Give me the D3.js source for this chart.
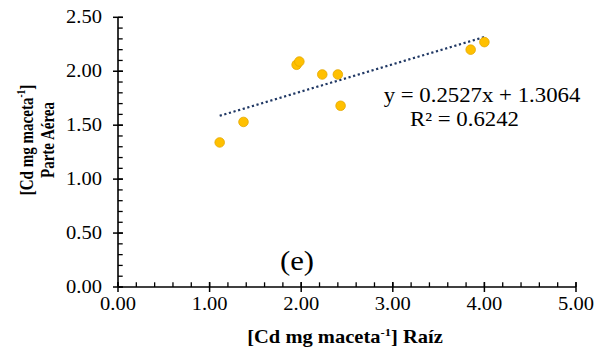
<!DOCTYPE html>
<html>
<head>
<meta charset="utf-8">
<script src="https://cdn.jsdelivr.net/npm/d3@7"></script>
<style>
  body { margin: 0; background: #fff; }
  text { font-family: "Liberation Serif", "Times New Roman", serif; fill: #000; }
</style>
</head>
<body>
<div class="chart"></div>
<script>
// data
const raiz = [1.11, 1.37, 1.95, 1.98, 2.23, 2.40, 2.43, 3.85, 4.00];
const parteAerea = [1.34, 1.53, 2.06, 2.09, 1.97, 1.97, 1.68, 2.20, 2.27];
const slope = 0.2527;
const intercept = 1.3064;
const xTicks = [0, 1, 2, 3, 4, 5];
const yTicks = [0, 0.5, 1, 1.5, 2, 2.5];

const width = 596;
const height = 354;
const sx = 1.14; // picture is stretched sideways

const x = d3.scaleLinear().domain([0, 5]).range([118, 576]);
const y = d3.scaleLinear().domain([0, 2.5]).range([287, 17.3]);

const svg = d3.select('.chart')
    .append('svg')
    .attr('width', width)
    .attr('height', height);

// put a stretched text at (px, py)
function label(px, py, anchor, size, weight) {
    return svg.append('text')
        .attr('transform', `translate(${px},${py}) scale(${sx},1)`)
        .attr('text-anchor', anchor)
        .attr('font-size', size)
        .attr('font-weight', weight || 'normal');
}

// minor ticks inside the plot
const xMinor = d3.range(0, 5.001, 0.2);
const yMinor = d3.range(0, 2.501, 0.1);
svg.selectAll('line.xminor')
    .data(xMinor)
    .enter()
    .append('line')
    .attr('x1', d => x(d)).attr('x2', d => x(d))
    .attr('y1', y(0)).attr('y2', y(0) - 4.7)
    .attr('stroke', '#000').attr('stroke-width', 1.3);
svg.selectAll('line.yminor')
    .data(yMinor)
    .enter()
    .append('line')
    .attr('y1', d => y(d)).attr('y2', d => y(d))
    .attr('x1', x(0)).attr('x2', x(0) + 4.7)
    .attr('stroke', '#000').attr('stroke-width', 1.3);

// major ticks cross the axis
svg.selectAll('line.xmajor')
    .data(xTicks)
    .enter()
    .append('line')
    .attr('x1', d => x(d)).attr('x2', d => x(d))
    .attr('y1', y(0) - 5).attr('y2', y(0) + 5)
    .attr('stroke', '#000').attr('stroke-width', 1.5);
svg.selectAll('line.ymajor')
    .data(yTicks)
    .enter()
    .append('line')
    .attr('y1', d => y(d)).attr('y2', d => y(d))
    .attr('x1', x(0) - 5).attr('x2', x(0) + 5)
    .attr('stroke', '#000').attr('stroke-width', 1.5);

// axis lines
svg.append('line')
    .attr('x1', x(0)).attr('x2', x(5))
    .attr('y1', y(0)).attr('y2', y(0))
    .attr('stroke', '#000').attr('stroke-width', 1.6);
svg.append('line')
    .attr('x1', x(0)).attr('x2', x(0))
    .attr('y1', y(0)).attr('y2', y(2.5))
    .attr('stroke', '#000').attr('stroke-width', 1.6);

// tick labels
xTicks.forEach(d => {
    label(x(d), 310, 'middle', 18).text(d3.format('.2f')(d));
});
yTicks.forEach(d => {
    label(102, y(d) + 6, 'end', 18).text(d3.format('.2f')(d));
});

// axis titles
const xt = label(345, 343, 'middle', 18, 'bold');
xt.append('tspan').text('[Cd mg maceta');
xt.append('tspan').attr('font-size', 11).attr('dy', -7).text('-1');
xt.append('tspan').attr('dy', 7).text('] Raíz');

const yt = svg.append('text')
    .attr('transform', 'translate(33,140) rotate(-90) scale(0.94,1.2)')
    .attr('text-anchor', 'middle')
    .attr('font-size', 16)
    .attr('font-weight', 'bold');
yt.append('tspan').text('[Cd mg maceta');
yt.append('tspan').attr('font-size', 10).attr('dy', -6.5).text('-1');
yt.append('tspan').attr('dy', 6.5).text(']');
svg.append('text')
    .attr('transform', 'translate(53.5,140) rotate(-90) scale(0.94,1.2)')
    .attr('text-anchor', 'middle')
    .attr('font-size', 16)
    .attr('font-weight', 'bold')
    .text('Parte Aérea');

// panel letter
label(297, 270, 'middle', 27).text('(e)');

// trend line
const x0 = d3.min(raiz), x1 = d3.max(raiz);
svg.append('line')
    .attr('x1', x(x0)).attr('y1', y(slope * x0 + intercept))
    .attr('x2', x(x1)).attr('y2', y(slope * x1 + intercept))
    .attr('stroke', '#203864')
    .attr('stroke-width', 2.2)
    .attr('stroke-dasharray', '2.2,2.6');

// points
svg.selectAll('circle')
    .data(raiz)
    .enter()
    .append('circle')
    .attr('cx', d => x(d))
    .attr('cy', (d, i) => y(parteAerea[i]))
    .attr('r', 4.8)
    .attr('fill', '#FFC000')
    .attr('stroke', '#E3A700')
    .attr('stroke-width', 0.8);

// equation
label(482, 101.5, 'middle', 20).text('y = 0.2527x + 1.3064');
label(464.5, 126, 'middle', 20).text('R² = 0.6242');
</script>
</body>
</html>
